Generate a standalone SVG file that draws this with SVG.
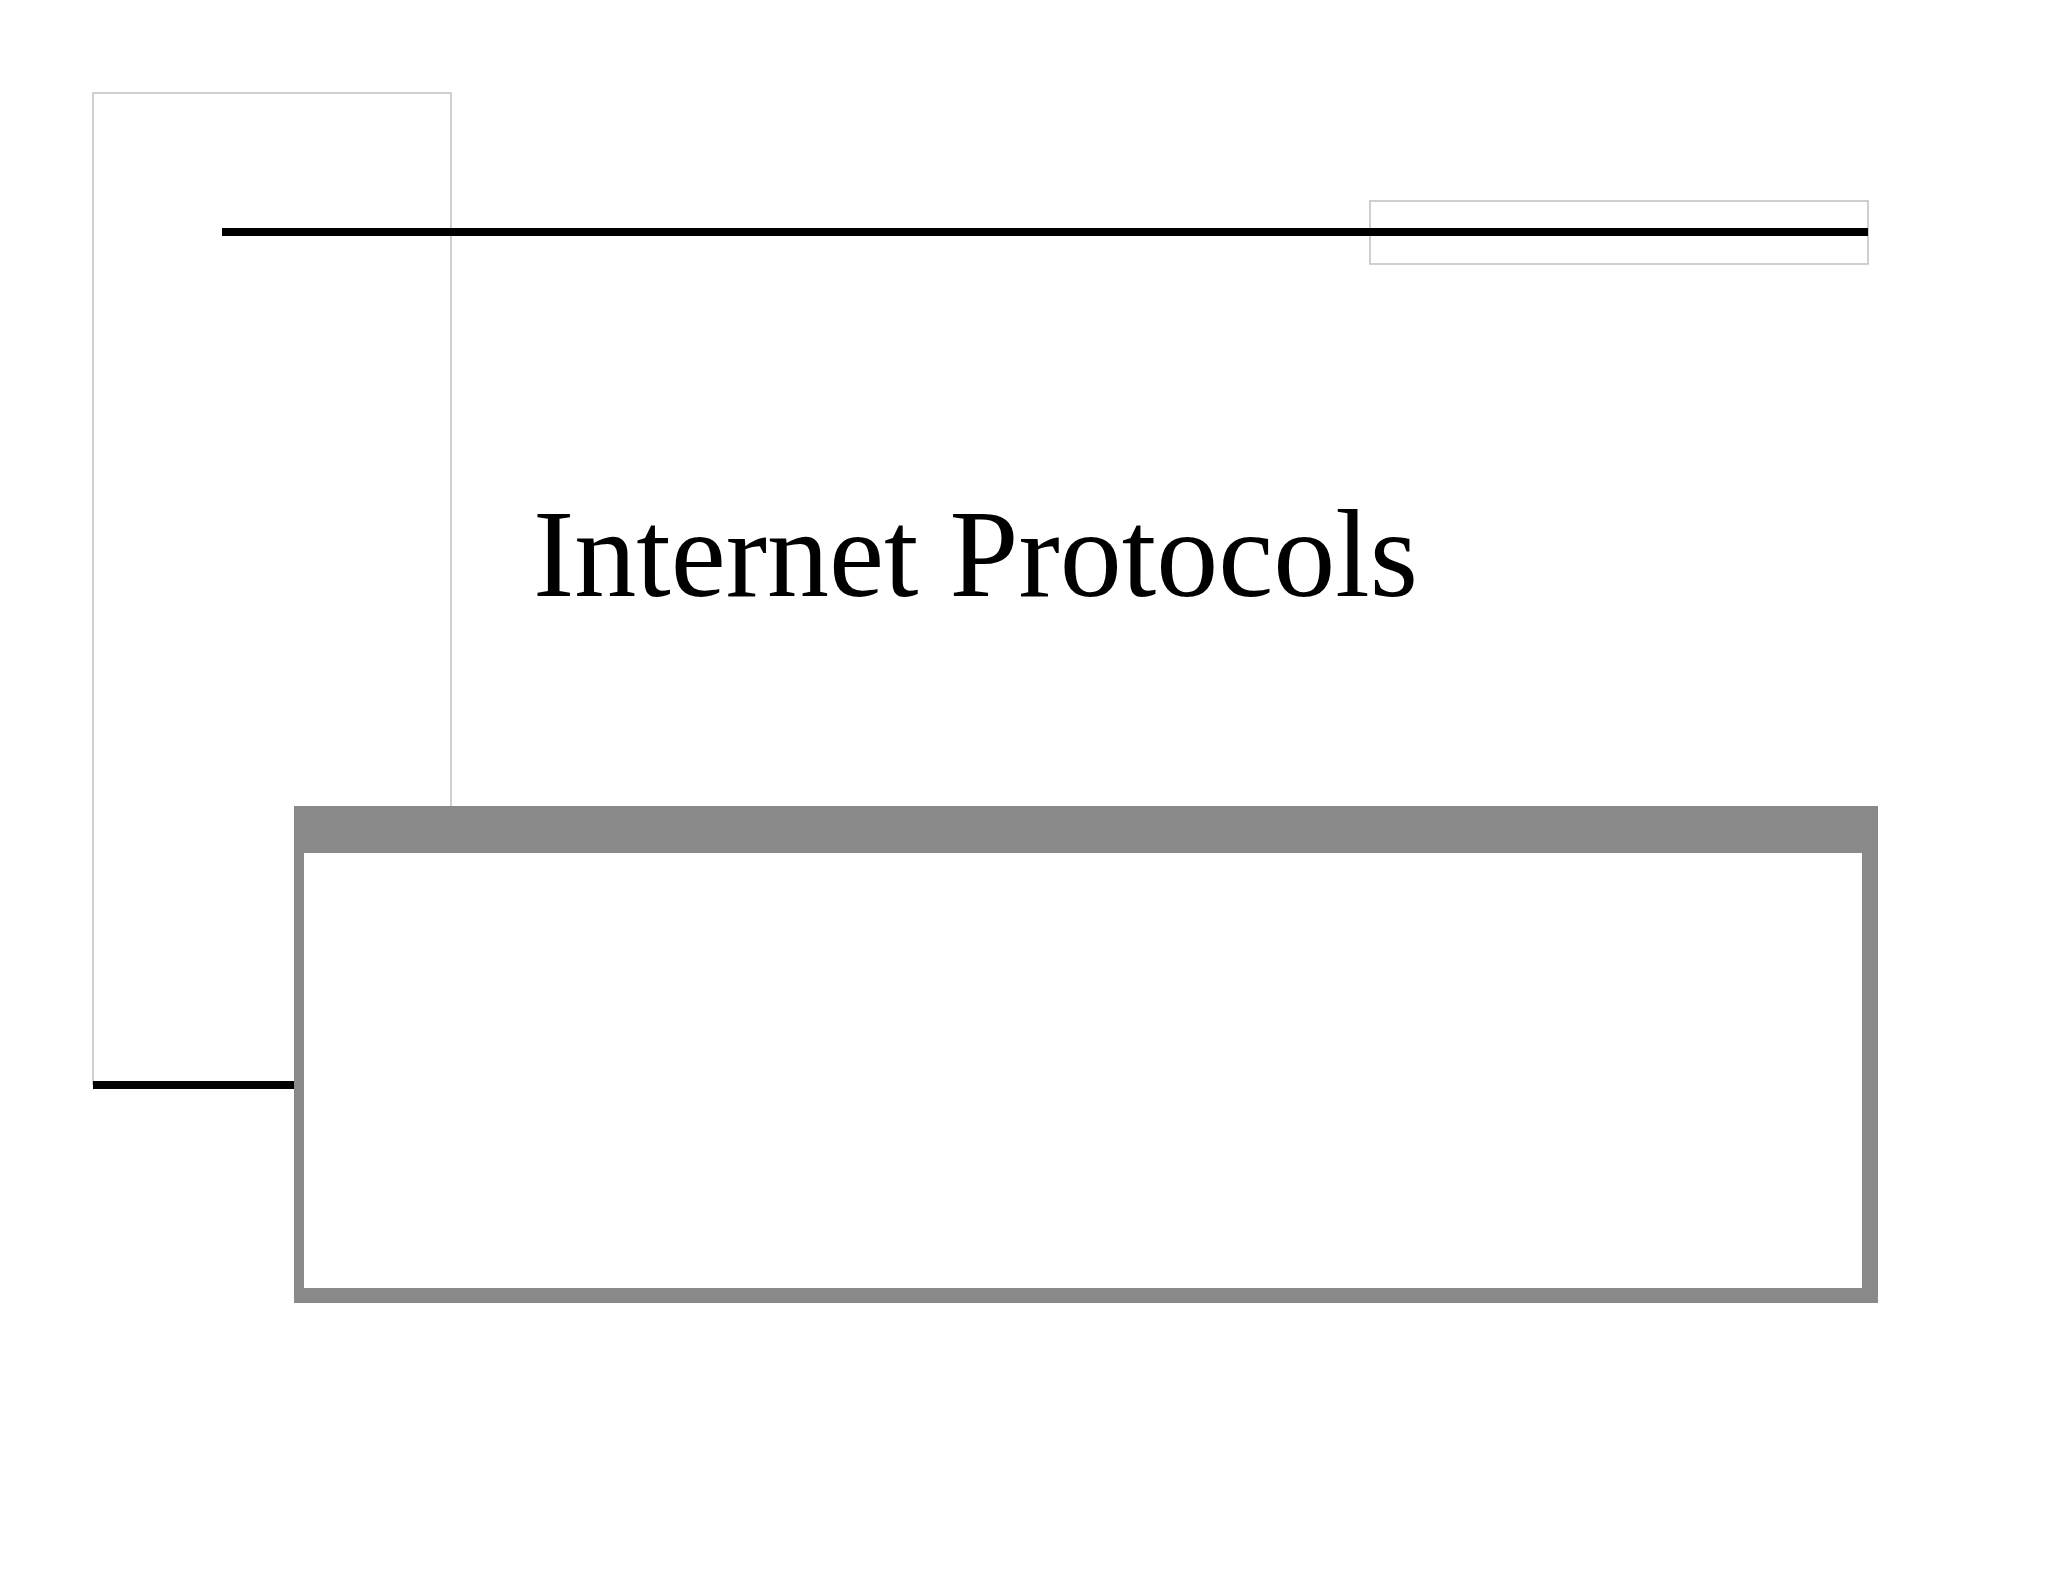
<svg xmlns="http://www.w3.org/2000/svg" width="2048" height="1582" viewBox="0 0 2048 1582">
<style>.thin{fill:none;stroke:#c0c0c0;stroke-width:1.5}.bar{stroke:#000;stroke-width:8}</style>
<rect width="2048" height="1582" fill="#fff"/>
<g id="left-frame"><rect class="thin" x="93" y="93" width="358" height="991"/></g>
<g id="right-frame"><rect class="thin" x="1370" y="201" width="498" height="63"/></g>
<g id="lines"><line class="bar" x1="222" y1="232" x2="1868" y2="232"/><line class="bar" x1="93" y1="1085" x2="296" y2="1085"/></g>
<g id="title"><text x="533" y="596" font-family="Liberation Serif, serif" font-size="124" fill="#000">Internet Protocols</text></g>
<g id="box"><rect x="294" y="806" width="1584" height="497" fill="#898989"/><rect x="304" y="853" width="1558" height="435" fill="#fff"/></g>
</svg>
